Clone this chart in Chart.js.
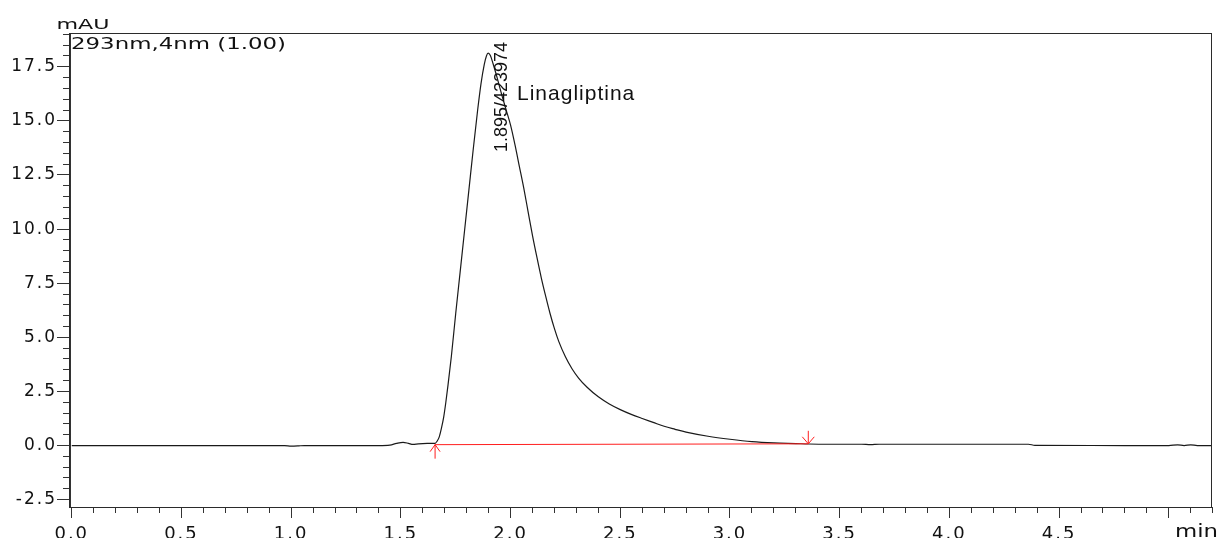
<!DOCTYPE html>
<html><head><meta charset="utf-8">
<script src="https://cdn.jsdelivr.net/npm/chart.js@4.4.1/dist/chart.umd.min.js"></script>
<style>html,body{margin:0;padding:0;background:#fff;} #wrap{position:relative;width:1219px;height:538px;}</style>
</head><body><div id="wrap"><canvas id="c"></canvas></div>
<script>
// ---- data ----
const timeMin = [0, 0.5, 0.97, 1.0, 1.03, 1.06, 1.1, 1.4, 1.45, 1.48, 1.51, 1.535, 1.555, 1.58, 1.62,
  1.656, 1.665, 1.675, 1.685, 1.695, 1.705, 1.715, 1.73, 1.75, 1.77, 1.79, 1.81, 1.83, 1.85, 1.865, 1.88,
  1.89, 1.898, 1.908, 1.92, 1.94, 1.96, 1.98, 2.0, 2.02, 2.04, 2.06, 2.08, 2.1, 2.12, 2.14, 2.16, 2.18, 2.2,
  2.22, 2.25, 2.28, 2.31, 2.35, 2.4, 2.45, 2.5, 2.55, 2.6, 2.65, 2.7, 2.75, 2.8, 2.9, 3.0,
  3.1, 3.2, 3.3, 3.36, 3.45, 3.6, 3.64, 3.68, 4.0, 4.36, 4.39, 4.8, 5.0, 5.04, 5.07, 5.1, 5.13, 5.2];
const absorbance = [0, 0, 0, -0.03, -0.02, 0, 0, 0, 0.02, 0.1, 0.15, 0.1, 0.05, 0.08, 0.1,
  0.1, 0.2, 0.4, 0.8, 1.3, 2.0, 2.8, 4.1, 6.1, 8.0, 9.9, 11.8, 13.7, 15.5, 16.7, 17.6,
  18.0, 18.13, 18.02, 17.65, 16.95, 16.2, 15.5, 14.8, 13.9, 12.9, 11.9, 10.8, 9.7, 8.7, 7.75, 6.9, 6.1, 5.4,
  4.8, 4.1, 3.55, 3.12, 2.68, 2.25, 1.92, 1.66, 1.44, 1.25, 1.07, 0.89, 0.75, 0.62, 0.43, 0.29,
  0.18, 0.12, 0.09, 0.07, 0.06, 0.06, 0.04, 0.06, 0.06, 0.06, 0.01, 0.0, 0.0, 0.03, 0.0, 0.03, 0.0, 0.0];
const integTimes = [1.656, 3.357];
const integValues = [0.04, 0.08];
const peakTimes = [1.895];
const peakAreas = [423974];
const peakNames = ['Linagliptina'];
const xMajorTicks = [0, 0.5, 1.0, 1.5, 2.0, 2.5, 3.0, 3.5, 4.0, 4.5, 5.0];
const xTickLabels = ['0.0', '0.5', '1.0', '1.5', '2.0', '2.5', '3.0', '3.5', '4.0', '4.5', ''];
const yMajorTicks = [-2.5, 0, 2.5, 5, 7.5, 10, 12.5, 15, 17.5];
const yTickLabels = ['-2.5', '0.0', '2.5', '5.0', '7.5', '10.0', '12.5', '15.0', '17.5'];
const detectorText = '293nm,4nm (1.00)';
const yUnit = 'mAU';
const xUnit = 'min';
const X_MIN = -0.008, X_MAX = 5.197, Y_MIN = -2.84, Y_MAX = 19.06;

// minor tick positions (axis decoration)
const xMinor = []; for (let i = 0; i <= 52; i++) xMinor.push(i / 10);
const yMinor = []; for (let i = -5; i <= 38; i++) yMinor.push(i / 2);

const signal = timeMin.map((t, i) => ({x: t, y: absorbance[i]}));
const baseline = integTimes.map((t, i) => ({x: t, y: integValues[i]}));

const TICK = '#333';
function stretchText(ctx, txt, x, y, font, targetW, align) {
  ctx.save();
  ctx.font = font;
  const w = ctx.measureText(txt).width;
  const sx = targetW / w;
  ctx.translate(x, y);
  ctx.scale(sx, 1);
  ctx.textAlign = 'left';
  ctx.fillText(txt, align === 'right' ? -w : 0, 0);
  ctx.restore();
}

const decor = {
  id: 'decor',
  beforeDraw(chart) { chart.ctx.letterSpacing = '2px'; },
  beforeDatasetsDraw(chart) { chart.ctx.letterSpacing = '0px'; },
  afterDraw(chart) {
    const {ctx, chartArea: a, scales} = chart;
    const x = scales.x, y = scales.y;
    ctx.save();
    ctx.letterSpacing = '0px';
    // frame
    ctx.strokeStyle = '#2b2b2b'; ctx.lineWidth = 1;
    ctx.strokeRect(Math.round(a.left) - 0.5, Math.round(a.top) + 0.5, Math.round(a.right) - Math.round(a.left), Math.round(a.bottom) - Math.round(a.top));
    // integration markers
    ctx.strokeStyle = 'rgb(255,30,30)'; ctx.lineWidth = 1;
    const sx = x.getPixelForValue(integTimes[0]), sy = y.getPixelForValue(integValues[0]);
    ctx.beginPath();
    ctx.moveTo(sx, sy); ctx.lineTo(sx, sy + 14);
    ctx.moveTo(sx - 5, sy + 7); ctx.lineTo(sx, sy); ctx.lineTo(sx + 5, sy + 7);
    const ex = x.getPixelForValue(integTimes[1]), ey = y.getPixelForValue(integValues[1]);
    ctx.moveTo(ex, ey); ctx.lineTo(ex, ey - 13);
    ctx.moveTo(ex - 6, ey - 7); ctx.lineTo(ex, ey); ctx.lineTo(ex + 6, ey - 7);
    ctx.stroke();
    // texts
    ctx.fillStyle = '#111';
    ctx.textBaseline = 'alphabetic';
    stretchText(ctx, yUnit, a.left - 13.5, a.top - 4, '14px "DejaVu Sans"', 53);
    stretchText(ctx, detectorText, a.left + 1, a.top + 15.5, '15px "DejaVu Sans"', 215);
    stretchText(ctx, xUnit, a.right + 6, 537, '17px "DejaVu Sans"', 43, 'right');
    // peak labels
    peakTimes.forEach((t, i) => {
      const px = x.getPixelForValue(t);
      ctx.save();
      ctx.font = '18px "Liberation Sans"';
      ctx.translate(px + 19.5, a.top + 119);
      ctx.rotate(-Math.PI / 2);
      ctx.fillText(t.toFixed(3) + '/' + peakAreas[i], 0, 0);
      ctx.restore();
      ctx.save();
      ctx.font = '21px "Liberation Sans"';
      ctx.letterSpacing = '1px';
      ctx.fillText(peakNames[i], px + 29.5, a.top + 67);
      ctx.restore();
    });
    ctx.restore();
  }
};

const gridCommon = {drawOnChartArea: false, drawTicks: true, color: TICK, tickColor: TICK, lineWidth: 1};

new Chart(document.getElementById('c'), {
  type: 'line',
  data: {datasets: [
    {data: baseline, borderColor: 'rgb(255,30,30)', borderWidth: 1, pointRadius: 0, xAxisID: 'x', yAxisID: 'y'},
    {data: signal, borderColor: '#1a1a1a', borderWidth: 1.2, pointRadius: 0, cubicInterpolationMode: 'monotone', xAxisID: 'x', yAxisID: 'y'}
  ]},
  options: {
    responsive: true, maintainAspectRatio: false, animation: false,
    layout: {padding: {top: 33, right: 7, left: 0, bottom: 0}},
    plugins: {legend: {display: false}, tooltip: {enabled: false}},
    scales: {
      x: {type: 'linear', position: 'bottom', min: X_MIN, max: X_MAX, weight: 0,
        afterBuildTicks: s => { s.ticks = xMajorTicks.map(v => ({value: v})); },
        afterFit: s => { s.height = 31; },
        grid: {...gridCommon, tickLength: 11},
        border: {display: true, color: TICK},
        ticks: {padding: 6, color: '#111', font: {family: 'DejaVu Sans', size: 18},
          callback: (v, i) => xTickLabels[i]}},
      xm: {type: 'linear', position: 'bottom', min: X_MIN, max: X_MAX, weight: -1,
        afterBuildTicks: s => { s.ticks = xMinor.map(v => ({value: v})); },
        afterFit: s => { s.height = 0; },
        grid: {...gridCommon, tickLength: 6},
        border: {display: false},
        ticks: {display: false}},
      y: {type: 'linear', position: 'left', min: Y_MIN, max: Y_MAX, weight: 0,
        afterBuildTicks: s => { s.ticks = yMajorTicks.map(v => ({value: v})); },
        afterFit: s => { s.width = 70; },
        grid: {...gridCommon, tickLength: 13},
        border: {display: true, color: TICK},
        ticks: {padding: 0, color: '#111', font: {family: 'DejaVu Sans', size: 17},
          callback: (v, i) => yTickLabels[i]}},
      ym: {type: 'linear', position: 'left', min: Y_MIN, max: Y_MAX, weight: -1,
        afterBuildTicks: s => { s.ticks = yMinor.map(v => ({value: v})); },
        afterFit: s => { s.width = 0; },
        grid: {...gridCommon, tickLength: 7},
        border: {display: false},
        ticks: {display: false}}
    }
  },
  plugins: [decor]
});
</script></body></html>
